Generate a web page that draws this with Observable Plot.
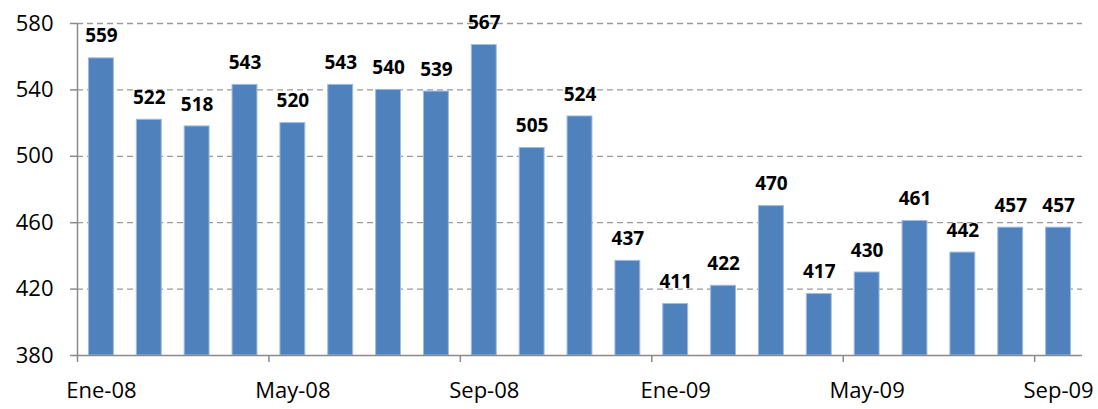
<!DOCTYPE html>
<html>
<head>
<meta charset="utf-8">
<script src="https://cdn.jsdelivr.net/npm/d3@7"></script>
<script src="https://cdn.jsdelivr.net/npm/@observablehq/plot@0.6"></script>
<style>
  html, body { margin: 0; padding: 0; background: #fff; }
  #chart { width: 1098px; height: 409px; }
</style>
</head>
<body>
<div id="chart"></div>
<script>
const months = ["Ene-08","Feb-08","Mar-08","Abr-08","May-08","Jun-08","Jul-08","Ago-08","Sep-08","Oct-08","Nov-08","Dic-08",
                "Ene-09","Feb-09","Mar-09","Abr-09","May-09","Jun-09","Jul-09","Ago-09","Sep-09"];
const values = [559,522,518,543,520,543,540,539,567,505,524,437,411,422,470,417,430,461,442,457,457];
const labeledMonths = ["Ene-08","May-08","Sep-08","Ene-09","May-09","Sep-09"];
const yTicks = [380,420,460,500,540,580];
const gridTicks = [420,460,500,540,580];
const yMin = 380, yMax = 580;

const data = months.map((m, i) => ({month: m, i, value: values[i]}));
const labeled = labeledMonths.map(m => ({month: m, i: months.indexOf(m)}));

const W = 1098, H = 409, mL = 77, mR = 16, mT = 23, mB = 54;
const halfBar = 0.26;
const font = "'Open Sans', 'Liberation Sans', sans-serif";
const axisColor = "#8a8a8a";

const chart = Plot.plot({
  width: W,
  height: H,
  marginLeft: mL,
  marginRight: mR,
  marginTop: mT,
  marginBottom: mB,
  style: {fontFamily: font, background: "#fff", color: "#000", fontSize: "20px"},
  x: {type: "linear", domain: [0, months.length], axis: null},
  y: {domain: [yMin, yMax], axis: null},
  marks: [
    Plot.gridY(gridTicks, {stroke: "#9a9a9a", strokeOpacity: 1, strokeWidth: 1.3, strokeDasharray: "6,4"}),
    Plot.rectY(data, {x1: d => d.i + 0.5 - halfBar, x2: d => d.i + 0.5 + halfBar, y1: yMin, y2: "value",
                      fill: "#4F81BD", stroke: "#9CBCE0", strokeWidth: 1}),
    Plot.text(data, {x: d => d.i + 0.5, y: "value", text: d => String(d.value), dy: -22,
                     fontSize: 19, fontWeight: "bold", fill: "#000"}),
    Plot.ruleY([yMin], {stroke: axisColor, strokeWidth: 1.5}),
    Plot.ruleX([0], {y1: yMin, y2: yMax, stroke: axisColor, strokeWidth: 1.5}),
    Plot.axisY({ticks: yTicks, tickSize: 7, tickPadding: 17, fontSize: 22, stroke: axisColor, strokeWidth: 1.5, fill: "#000", label: null}),
    // x tick marks at the left edge of the labelled months
    Plot.axisX({ticks: labeled.map(d => d.i), tickSize: 7, text: null, stroke: axisColor, strokeWidth: 1.5, label: null}),
    // x labels centred under their bars
    Plot.text(labeled, {x: d => d.i + 0.5, frameAnchor: "bottom", text: "month", dy: 42, fontSize: 22, fill: "#000"})
  ]
});
document.getElementById("chart").append(chart);
</script>
</body>
</html>
